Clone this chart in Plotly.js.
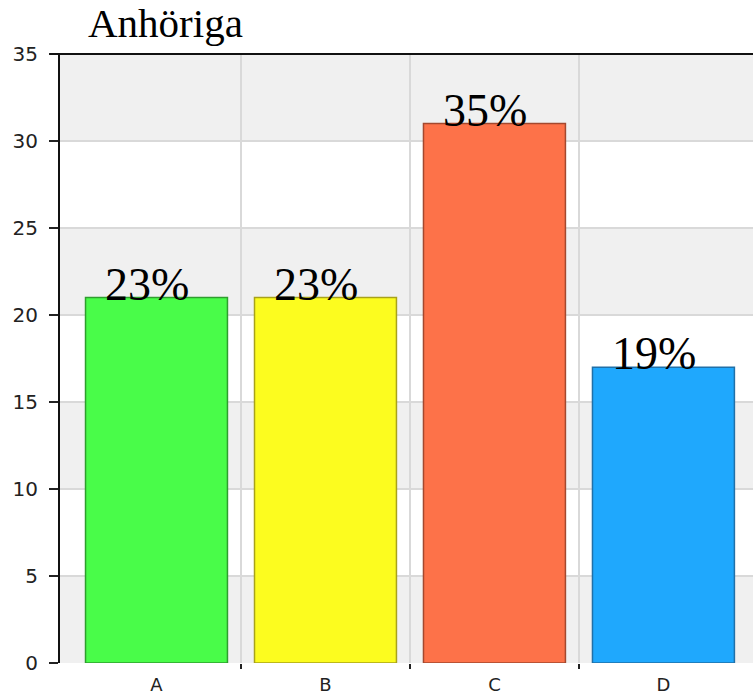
<!DOCTYPE html>
<html>
<head>
<meta charset="utf-8">
<script src="https://cdn.plot.ly/plotly-3.0.1.min.js"></script>
<style>html,body{margin:0;padding:0;background:#fff;}#chart{width:753px;height:699px;}</style>
</head>
<body>
<div id="chart"></div>
<script>
const categories = ["A", "B", "C", "D"];
const counts = [21, 21, 31, 17];
const percentLabels = ["23%", "23%", "35%", "19%"];
const barColors = ["#49FC49", "#FCFC1F", "#FD7249", "#1FA8FD"];
const barBorders = ["#2E9E2E", "#A8A21A", "#A4482E", "#2070A8"];
const yTicks = [0, 5, 10, 15, 20, 25, 30, 35];
const dividers = [0.5, 1.5, 2.5];

const xRange = [-0.571, 3.53];
const yRange = [0, 35];

const shapes = [];
for (let i = 0; i + 1 < yTicks.length; i += 2) {
  shapes.push({type: "rect", xref: "paper", yref: "y", x0: 0, x1: 1,
    y0: yTicks[i], y1: yTicks[i + 1], fillcolor: "#f0f0f0", line: {width: 0}, layer: "below"});
}
shapes.push({type: "line", xref: "paper", yref: "paper", x0: -0.0145, x1: 1, y0: 1, y1: 1,
  line: {color: "#111", width: 2}});

const annotations = categories.map((c, i) => ({
  x: c, y: counts[i], xref: "x", yref: "y", text: percentLabels[i],
  showarrow: false, yanchor: "bottom", xanchor: "center", xshift: -9, yshift: -14,
  font: {family: "Liberation Serif, Times New Roman, serif", size: 46, color: "#000"}
}));

const data = [
  {type: "bar", x: categories, y: counts, width: 0.84,
   marker: {color: barColors, line: {color: barBorders, width: 1.5}},
   hoverinfo: "none", xaxis: "x", yaxis: "y"},
  {type: "scatter", x: [], y: [], xaxis: "x2", yaxis: "y", showlegend: false, hoverinfo: "none"}
];

const layout = {
  width: 753, height: 699,
  margin: {l: 60, r: 0, t: 54, b: 36, pad: 0},
  paper_bgcolor: "#fff", plot_bgcolor: "#fff",
  showlegend: false,
  title: {text: "Anhöriga", font: {family: "Liberation Serif, Times New Roman, serif", size: 41, color: "#000"},
    xref: "container", yref: "container", x: 88 / 753, xanchor: "left", y: 1 - 8 / 699, yanchor: "top", pad: {t: 0, b: 0, l: 0, r: 0}},
  xaxis: {type: "category", range: xRange, showgrid: false, zeroline: false, showline: false,
    ticks: "", tickfont: {family: "DejaVu Sans, sans-serif", size: 18, color: "#222"},
    ticklabelstandoff: 9, fixedrange: true},
  xaxis2: {type: "linear", overlaying: "x", anchor: "y", side: "bottom", range: xRange,
    tickvals: dividers, showticklabels: false, showgrid: true, gridcolor: "#d9d9d9", gridwidth: 1.5,
    ticks: "outside", ticklen: 5, tickwidth: 2, tickcolor: "#222", zeroline: false, showline: false},
  yaxis: {range: yRange, tickvals: yTicks, showgrid: true, gridcolor: "#d9d9d9", gridwidth: 1.5,
    zeroline: false, showline: true, linecolor: "#111", linewidth: 2,
    ticks: "outside", ticklen: 9, tickwidth: 2, tickcolor: "#222",
    tickfont: {family: "DejaVu Sans, sans-serif", size: 20, color: "#222"}, ticklabelstandoff: 7},
  shapes: shapes,
  annotations: annotations
};

Plotly.newPlot("chart", data, layout, {displayModeBar: false, staticPlot: true});
</script>
</body>
</html>
